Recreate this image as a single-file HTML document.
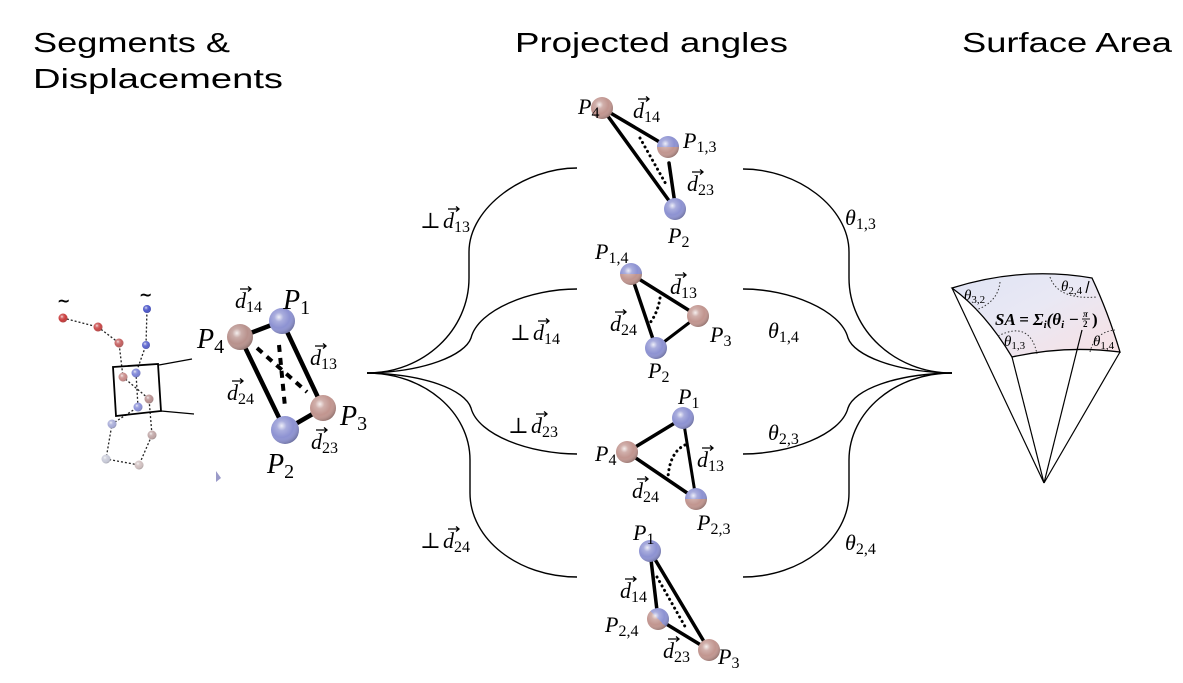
<!DOCTYPE html>
<html><head><meta charset="utf-8"><style>
html,body{margin:0;padding:0;background:#fff;}
svg{display:block;}
.t{font-family:"Liberation Sans",sans-serif;font-size:28px;fill:#000;}
.m{font-family:"Liberation Serif","DejaVu Serif",serif;font-style:italic;font-size:22px;fill:#000;}
.s{font-style:normal;font-size:16px;}
.pb{font-family:"Liberation Serif","DejaVu Serif",serif;font-style:italic;font-size:28px;fill:#000;}
.pbs{font-style:normal;font-size:20px;}
.ar{fill:none;stroke:#000;stroke-width:1.3;}
.cv{fill:none;stroke:#000;stroke-width:1.4;}
.th{stroke:#000;stroke-width:3.5;stroke-linecap:round;fill:none;}
.dot{stroke:#000;stroke-width:3;stroke-dasharray:0.1 5;stroke-linecap:round;fill:none;}
.sm{font-family:"Liberation Serif","DejaVu Serif",serif;font-style:italic;font-size:15px;fill:#000;}
.sms{font-style:normal;font-size:11px;}
.arc{fill:none;stroke:#333;stroke-width:1;stroke-dasharray:1.5 2;}
</style></head><body>
<svg width="1183" height="683" viewBox="0 0 1183 683" xmlns="http://www.w3.org/2000/svg">
<defs>
<radialGradient id="sh" cx="0.38" cy="0.35" r="0.7">
<stop offset="0" stop-color="#fff" stop-opacity="0.85"/>
<stop offset="0.25" stop-color="#fff" stop-opacity="0.25"/>
<stop offset="0.6" stop-color="#fff" stop-opacity="0"/>
<stop offset="1" stop-color="#000" stop-opacity="0.28"/>
</radialGradient>
<linearGradient id="hv" x1="0" y1="0" x2="0" y2="1">
<stop offset="0.5" stop-color="#8d92d2"/><stop offset="0.5" stop-color="#c1958f"/>
</linearGradient>
<linearGradient id="hd" x1="1" y1="0" x2="0" y2="1">
<stop offset="0.5" stop-color="#8d92d2"/><stop offset="0.5" stop-color="#c1958f"/>
</linearGradient>
<linearGradient id="sf" x1="0" y1="0" x2="1" y2="1">
<stop offset="0" stop-color="#dfe4f4"/><stop offset="0.45" stop-color="#e9e8f4"/><stop offset="1" stop-color="#f8e0e3"/>
</linearGradient>
</defs>

<!-- Titles -->
<text class="t" x="33" y="52" textLength="197" lengthAdjust="spacingAndGlyphs">Segments &amp;</text>
<text class="t" x="33" y="88" textLength="250" lengthAdjust="spacingAndGlyphs">Displacements</text>
<text class="t" x="515" y="52" textLength="273" lengthAdjust="spacingAndGlyphs">Projected angles</text>
<text class="t" x="962" y="52" textLength="210" lengthAdjust="spacingAndGlyphs">Surface Area</text>

<!-- Left chain -->
<g fill="none" stroke="#222" stroke-width="1.3" stroke-dasharray="2 2">
<polyline points="63,318 98,327 119,343 123,377 149,399 152,435 139,465 106,459 112,424 138,407 136,373 146,345 147,309"/>
</g>
<text x="57" y="306" style="font-family:'DejaVu Sans',sans-serif;font-size:16px;font-weight:bold">~</text>
<text x="139" y="300" style="font-family:'DejaVu Sans',sans-serif;font-size:16px;font-weight:bold">~</text>
<g>
<circle cx="63" cy="318" r="4.5" fill="#c83a3a"/><circle cx="63" cy="318" r="4.5" fill="url(#sh)"/>
<circle cx="98" cy="327" r="4.5" fill="#c84848"/><circle cx="98" cy="327" r="4.5" fill="url(#sh)"/>
<circle cx="119" cy="343" r="4.5" fill="#c46060"/><circle cx="119" cy="343" r="4.5" fill="url(#sh)"/>
<circle cx="123" cy="377" r="4.5" fill="#c88a88"/><circle cx="123" cy="377" r="4.5" fill="url(#sh)"/>
<circle cx="147" cy="309" r="4" fill="#4a55c8"/><circle cx="147" cy="309" r="4" fill="url(#sh)"/>
<circle cx="146" cy="345" r="4" fill="#5a63cc"/><circle cx="146" cy="345" r="4" fill="url(#sh)"/>
<circle cx="136" cy="373" r="4.5" fill="#7a82d6"/><circle cx="136" cy="373" r="4.5" fill="url(#sh)"/>
<circle cx="149" cy="399" r="4.5" fill="#b89090"/><circle cx="149" cy="399" r="4.5" fill="url(#sh)"/>
<circle cx="138" cy="407" r="4.5" fill="#8a90d8"/><circle cx="138" cy="407" r="4.5" fill="url(#sh)"/>
<circle cx="112" cy="424" r="4.5" fill="#a8acd8"/><circle cx="112" cy="424" r="4.5" fill="url(#sh)"/>
<circle cx="152" cy="435" r="4.5" fill="#c0a6a6"/><circle cx="152" cy="435" r="4.5" fill="url(#sh)"/>
<circle cx="106" cy="459" r="4.5" fill="#c8cad8"/><circle cx="106" cy="459" r="4.5" fill="url(#sh)"/>
<circle cx="139" cy="465" r="4.5" fill="#d0c0c0"/><circle cx="139" cy="465" r="4.5" fill="url(#sh)"/>
</g>
<polygon points="113,367 158,364 161,411 116,416" fill="none" stroke="#000" stroke-width="1.8"/>
<line x1="159" y1="365" x2="192" y2="359" stroke="#000" stroke-width="1.3"/>
<line x1="161" y1="411" x2="194" y2="414" stroke="#000" stroke-width="1.3"/>
<polygon points="216,471 221,478 216,482" fill="#9a9ac8"/>

<!-- Left rectangle -->
<g stroke="#000" stroke-width="4.5" stroke-linecap="round">
<line x1="240" y1="337" x2="282" y2="321"/>
<line x1="282" y1="321" x2="323" y2="408"/>
<line x1="323" y1="408" x2="285" y2="430"/>
<line x1="240" y1="337" x2="285" y2="430"/>
</g>
<g stroke="#000" stroke-width="4" stroke-dasharray="7 6">
<line x1="257" y1="348" x2="307" y2="392"/>
<line x1="279" y1="345" x2="285" y2="407"/>
</g>
<circle cx="240" cy="337" r="13" fill="#b8918c"/><circle cx="240" cy="337" r="13" fill="url(#sh)"/>
<circle cx="282" cy="321" r="13" fill="#8d92d2"/><circle cx="282" cy="321" r="13" fill="url(#sh)"/>
<circle cx="323" cy="408" r="13" fill="#c1958f"/><circle cx="323" cy="408" r="13" fill="url(#sh)"/>
<circle cx="285" cy="430" r="14" fill="#8d92d2"/><circle cx="285" cy="430" r="14" fill="url(#sh)"/>

<text class="m" x="235" y="308">d<tspan class="s" dy="4">14</tspan></text><path class="ar" d="M240 289 H251 M248 286.5 L251 289 L248 291.5"/>
<text class="pb" x="283" y="309">P<tspan class="pbs" dy="5">1</tspan></text>
<text class="pb" x="197" y="348">P<tspan class="pbs" dy="5">4</tspan></text>
<text class="m" x="310" y="365">d<tspan class="s" dy="4">13</tspan></text><path class="ar" d="M315 346 H326 M323 343.5 L326 346 L323 348.5"/>
<text class="m" x="227" y="400">d<tspan class="s" dy="4">24</tspan></text><path class="ar" d="M232 381 H243 M240 378.5 L243 381 L240 383.5"/>
<text class="pb" x="340" y="425">P<tspan class="pbs" dy="5">3</tspan></text>
<text class="m" x="311" y="449">d<tspan class="s" dy="4">23</tspan></text><path class="ar" d="M316 430 H327 M324 427.5 L327 430 L324 432.5"/>
<text class="pb" x="267" y="473">P<tspan class="pbs" dy="5">2</tspan></text>

<!-- Left curves -->
<path class="cv" d="M367 373 C424 373 469 330 469 278 L469 252 C469 207 525 168 577 168"/>
<path class="cv" d="M367 373 C425 372 465 355 471 338 C478 310 530 289 577 289"/>
<path class="cv" d="M367 373 C425 374 465 390 471 408 C478 435 530 454 577 454"/>
<path class="cv" d="M367 373 C424 373 470 412 470 460 L470 493 C470 539 518 577 577 577"/>

<!-- Right curves -->
<path class="cv" d="M952 373 C895 373 849 330 849 278 L849 252 C849 207 797 169 743 169"/>
<path class="cv" d="M952 373 C894 372 854 355 848 338 C841 310 789 289 743 289"/>
<path class="cv" d="M952 373 C894 374 854 390 848 408 C841 435 789 454 743 454"/>
<path class="cv" d="M952 373 C895 373 849 412 849 460 L849 493 C849 539 801 577 743 577"/>

<!-- Curve labels -->
<text class="m" x="420" y="228" style="font-style:normal">⊥</text>
<text class="m" x="443" y="228">d<tspan class="s" dy="4">13</tspan></text><path class="ar" d="M448 209 H459 M456 206.5 L459 209 L456 211.5"/>
<text class="m" x="510" y="340" style="font-style:normal">⊥</text>
<text class="m" x="533" y="340">d<tspan class="s" dy="4">14</tspan></text><path class="ar" d="M538 321 H549 M546 318.5 L549 321 L546 323.5"/>
<text class="m" x="508" y="433" style="font-style:normal">⊥</text>
<text class="m" x="531" y="433">d<tspan class="s" dy="4">23</tspan></text><path class="ar" d="M536 414 H547 M544 411.5 L547 414 L544 416.5"/>
<text class="m" x="420" y="548" style="font-style:normal">⊥</text>
<text class="m" x="443" y="548">d<tspan class="s" dy="4">24</tspan></text><path class="ar" d="M448 529 H459 M456 526.5 L459 529 L456 531.5"/>

<text class="m" x="845" y="225">θ<tspan class="s" dy="4">1,3</tspan></text>
<text class="m" x="768" y="338">θ<tspan class="s" dy="4">1,4</tspan></text>
<text class="m" x="768" y="440">θ<tspan class="s" dy="4">2,3</tspan></text>
<text class="m" x="845" y="550">θ<tspan class="s" dy="4">2,4</tspan></text>

<!-- Triangle 1 -->
<line class="th" x1="602" y1="108" x2="668" y2="147"/>
<line class="th" x1="602" y1="108" x2="675" y2="209"/>
<line class="th" x1="669" y1="163" x2="675" y2="204"/>
<line class="dot" x1="640" y1="138" x2="667" y2="186"/>
<circle cx="602" cy="108" r="11" fill="#c1958f"/><circle cx="602" cy="108" r="11" fill="url(#sh)"/>
<circle cx="668" cy="147" r="11" fill="url(#hv)"/><circle cx="668" cy="147" r="11" fill="url(#sh)"/>
<circle cx="675" cy="209" r="11" fill="#8d92d2"/><circle cx="675" cy="209" r="11" fill="url(#sh)"/>
<text class="m" x="578" y="114">P<tspan class="s" dy="4">4</tspan></text>
<text class="m" x="633" y="118">d<tspan class="s" dy="4">14</tspan></text><path class="ar" d="M638 99 H649 M646 96.5 L649 99 L646 101.5"/>
<text class="m" x="683" y="148">P<tspan class="s" dy="4">1,3</tspan></text>
<text class="m" x="687" y="191">d<tspan class="s" dy="4">23</tspan></text><path class="ar" d="M692 172 H703 M700 169.5 L703 172 L700 174.5"/>
<text class="m" x="668" y="243">P<tspan class="s" dy="4">2</tspan></text>

<!-- Triangle 2 -->
<line class="th" x1="631" y1="274" x2="698" y2="316"/>
<line class="th" x1="631" y1="274" x2="656" y2="348"/>
<line x1="656" y1="348" x2="698" y2="316" stroke="#000" stroke-width="3"/>
<path class="dot" d="M660 298 Q658 312 650 323"/>
<circle cx="631" cy="274" r="11" fill="url(#hv)"/><circle cx="631" cy="274" r="11" fill="url(#sh)"/>
<circle cx="698" cy="316" r="11" fill="#c1958f"/><circle cx="698" cy="316" r="11" fill="url(#sh)"/>
<circle cx="656" cy="348" r="11" fill="#8d92d2"/><circle cx="656" cy="348" r="11" fill="url(#sh)"/>
<text class="m" x="595" y="259">P<tspan class="s" dy="4">1,4</tspan></text>
<text class="m" x="670" y="294">d<tspan class="s" dy="4">13</tspan></text><path class="ar" d="M675 275 H686 M683 272.5 L686 275 L683 277.5"/>
<text class="m" x="610" y="331">d<tspan class="s" dy="4">24</tspan></text><path class="ar" d="M615 312 H626 M623 309.5 L626 312 L623 314.5"/>
<text class="m" x="710" y="342">P<tspan class="s" dy="4">3</tspan></text>
<text class="m" x="648" y="378">P<tspan class="s" dy="4">2</tspan></text>

<!-- Triangle 3 -->
<line class="th" x1="683" y1="418" x2="627" y2="452"/>
<line class="th" x1="627" y1="452" x2="696" y2="499"/>
<line x1="683" y1="418" x2="696" y2="499" stroke="#000" stroke-width="3"/>
<path class="dot" d="M685 445 Q670 452 668 477"/>
<circle cx="683" cy="418" r="11" fill="#8d92d2"/><circle cx="683" cy="418" r="11" fill="url(#sh)"/>
<circle cx="627" cy="452" r="11" fill="#c1958f"/><circle cx="627" cy="452" r="11" fill="url(#sh)"/>
<circle cx="696" cy="499" r="11" fill="url(#hv)"/><circle cx="696" cy="499" r="11" fill="url(#sh)"/>
<text class="m" x="678" y="404">P<tspan class="s" dy="4">1</tspan></text>
<text class="m" x="595" y="461">P<tspan class="s" dy="4">4</tspan></text>
<text class="m" x="697" y="467">d<tspan class="s" dy="4">13</tspan></text><path class="ar" d="M702 448 H713 M710 445.5 L713 448 L710 450.5"/>
<text class="m" x="632" y="498">d<tspan class="s" dy="4">24</tspan></text><path class="ar" d="M637 479 H648 M645 476.5 L648 479 L645 481.5"/>
<text class="m" x="697" y="530">P<tspan class="s" dy="4">2,3</tspan></text>

<!-- Triangle 4 -->
<line class="th" x1="650" y1="551" x2="658" y2="619"/>
<line class="th" x1="650" y1="551" x2="709" y2="650"/>
<line class="th" x1="658" y1="619" x2="709" y2="650"/>
<line class="dot" x1="657" y1="577" x2="687" y2="630"/>
<circle cx="650" cy="551" r="11" fill="#8d92d2"/><circle cx="650" cy="551" r="11" fill="url(#sh)"/>
<circle cx="658" cy="619" r="11" fill="url(#hd)"/><circle cx="658" cy="619" r="11" fill="url(#sh)"/>
<circle cx="709" cy="650" r="11" fill="#c1958f"/><circle cx="709" cy="650" r="11" fill="url(#sh)"/>
<text class="m" x="633" y="540">P<tspan class="s" dy="4">1</tspan></text>
<text class="m" x="620" y="598">d<tspan class="s" dy="4">14</tspan></text><path class="ar" d="M625 579 H636 M633 576.5 L636 579 L633 581.5"/>
<text class="m" x="605" y="632">P<tspan class="s" dy="4">2,4</tspan></text>
<text class="m" x="663" y="658">d<tspan class="s" dy="4">23</tspan></text><path class="ar" d="M668 639 H679 M676 636.5 L679 639 L676 641.5"/>
<text class="m" x="718" y="664">P<tspan class="s" dy="4">3</tspan></text>

<!-- Surface -->
<path d="M952 288 Q1022 266 1092 278 Q1108 312 1120 352 Q1066 345 1012 357 Q985 312 952 288 Z" fill="url(#sf)" stroke="#000" stroke-width="1.3"/>
<g stroke="#000" stroke-width="1.2" fill="none">
<line x1="1044" y1="483" x2="952" y2="288"/>
<line x1="1044" y1="483" x2="1012" y2="357"/>
<line x1="1044" y1="483" x2="1120" y2="352"/>
<line x1="1044" y1="483" x2="1082" y2="330"/>
<line x1="1089" y1="281" x2="1086" y2="293"/>
</g>
<path class="arc" d="M1000 282 Q998 302 976 310"/>
<path class="arc" d="M1050 277 Q1058 300 1097 297"/>
<path class="arc" d="M998 336 Q1030 320 1037 354"/>
<path class="arc" d="M1090 352 Q1095 332 1115 330"/>
<text class="sm" x="964" y="300">θ<tspan class="sms" dy="3">3,2</tspan></text>
<text class="sm" x="1061" y="291">θ<tspan class="sms" dy="3">2,4</tspan></text>
<text class="sm" x="1004" y="346">θ<tspan class="sms" dy="3">1,3</tspan></text>
<text class="sm" x="1093" y="346">θ<tspan class="sms" dy="3">1,4</tspan></text>
<text x="995" y="325" style="font-family:'Liberation Serif','DejaVu Serif',serif;font-style:italic;font-weight:bold;font-size:17px">SA = Σ<tspan font-size="11" dy="3">i</tspan><tspan dy="-3">(θ</tspan><tspan font-size="11" dy="3">i</tspan><tspan dy="-3"> −</tspan></text>
<text x="1083" y="317" style="font-family:'Liberation Serif',serif;font-style:italic;font-weight:bold;font-size:9px">π</text>
<line x1="1082" y1="319" x2="1090" y2="319" stroke="#000" stroke-width="0.9"/>
<text x="1083" y="327" style="font-family:'Liberation Serif',serif;font-weight:bold;font-size:9px">2</text>
<text x="1092" y="325" style="font-family:'Liberation Serif',serif;font-weight:bold;font-size:17px">)</text>
</svg>
</body></html>
